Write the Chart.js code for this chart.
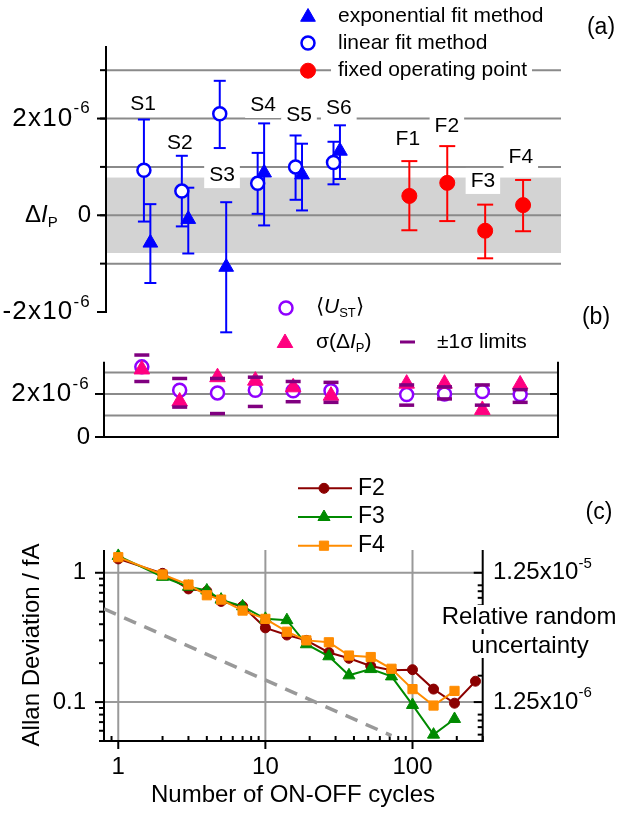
<!DOCTYPE html>
<html>
<head>
<meta charset="utf-8">
<title>Delta I_P and Allan deviation</title>
<script src="https://cdn.jsdelivr.net/npm/chart.js@4.4.1/dist/chart.umd.min.js"></script>
<style>
  html, body { margin: 0; padding: 0; background: #fff; }
  #page { position: relative; width: 621px; height: 813px; overflow: hidden; }
  #page canvas { position: absolute; left: 0; }
</style>
</head>
<body>
<div id="page">
  <canvas id="chartA" width="621" height="340" style="top:0"></canvas>
  <canvas id="chartB" width="621" height="165" style="top:290px"></canvas>
  <canvas id="chartC" width="621" height="358" style="top:455px"></canvas>
</div>
<script>
// panel (a)
const sampleNames = ["S1", "S2", "S3", "S4", "S5", "S6"];
const samplePos = [1, 2, 3, 4, 5, 6];
const linFit = [0.93e-6, 0.50e-6, 2.10e-6, 0.66e-6, 1.00e-6, 1.09e-6];
const linLo = [-0.13e-6, -0.23e-6, 1.39e-6, 0.03e-6, 0.32e-6, 0.64e-6];
const linHi = [1.98e-6, 1.23e-6, 2.78e-6, 1.29e-6, 1.65e-6, 1.52e-6];
const expFit = [-0.57e-6, -0.08e-6, -1.07e-6, 0.88e-6, 0.84e-6, 1.33e-6];
const expLo = [-1.40e-6, -0.79e-6, -2.42e-6, -0.21e-6, 0.10e-6, 0.75e-6];
const expHi = [0.23e-6, 0.57e-6, 0.27e-6, 1.90e-6, 1.48e-6, 1.86e-6];
const fixedNames = ["F1", "F2", "F3", "F4"];
const fixedPos = [8, 9, 10, 11];
const fixedPt = [0.40e-6, 0.67e-6, -0.32e-6, 0.21e-6];
const fixedLo = [-0.31e-6, -0.12e-6, -0.89e-6, -0.33e-6];
const fixedHi = [1.12e-6, 1.43e-6, 0.22e-6, 0.73e-6];
const bandHalf = 0.78e-6;
const gridA = [3e-6, 2e-6, 1e-6, 0, -1e-6];
const ticksA = [-2e-6, 0, 2e-6];
// anchors of the S/F tags (data coordinates)
const tagX = [0.98, 1.95, 3.06, 4.14, 5.09, 6.14, 7.96, 8.99, 9.94, 10.94];
const tagY = [2.30e-6, 1.49e-6, 0.83e-6, 2.28e-6, 2.07e-6, 2.22e-6, 1.57e-6, 1.84e-6, 0.71e-6, 1.20e-6];

// panel (b)
const allPos = [1, 2, 3, 4, 5, 6, 8, 9, 10, 11];
const ustMean = [3.26e-6, 2.17e-6, 2.05e-6, 2.17e-6, 2.15e-6, 2.15e-6, 1.97e-6, 2.00e-6, 2.11e-6, 1.97e-6];
const sigmaDI = [3.14e-6, 1.65e-6, 2.78e-6, 2.62e-6, 2.31e-6, 1.92e-6, 2.48e-6, 2.48e-6, 1.26e-6, 2.44e-6];
const limHi = [3.81e-6, 2.72e-6, 2.72e-6, 2.78e-6, 2.58e-6, 2.54e-6, 2.42e-6, 2.33e-6, 2.42e-6, 2.20e-6];
const limLo = [2.58e-6, 1.39e-6, 1.09e-6, 1.42e-6, 1.64e-6, 1.61e-6, 1.48e-6, 1.77e-6, 1.48e-6, 1.61e-6];
const gridB = [1e-6, 2e-6, 3e-6];
const ticksB = [0, 2e-6];

// panel (c)
const cycles = [1, 2, 3, 4, 5, 7, 10, 14, 19, 27, 37, 52, 72, 100, 139, 193, 268];
const adevF2 = [1.28, 0.99, 0.75, 0.72, 0.60, 0.55, 0.375, 0.33, 0.30, 0.242, 0.218, 0.19, 0.176, 0.178, 0.126, 0.098, 0.145];
const adevF3 = [1.35, 0.93, 0.78, 0.73, 0.62, 0.55, 0.44, 0.43, 0.28, 0.226, 0.161, 0.18, 0.158, 0.095, 0.056, 0.074];
const adevF4 = [1.32, 0.97, 0.81, 0.67, 0.62, 0.51, 0.44, 0.35, 0.30, 0.29, 0.229, 0.223, 0.181, 0.126, 0.094, 0.122];
const refX = [0.8, 72];
const refY = [0.525, 0.055];
const majorX = [1, 10, 100];
const majorY = [0.1, 1];
const relPerFA = 1.25e-5;
const relTicks = [1.25e-5, 1.25e-6];

const FONT = '"Liberation Sans", Arial, Helvetica, sans-serif';
const BLUE = "#0000ff";
const RED = "#ff0000";
const VIOLET = "#8f00ff";
const PINK = "#ff0080";
const PURPLE = "#800080";
const GRID = "#8a8a8a";

function hline(ctx, x1, x2, y) { ctx.beginPath(); ctx.moveTo(x1, y); ctx.lineTo(x2, y); ctx.stroke(); }
function vline(ctx, x, y1, y2) { ctx.beginPath(); ctx.moveTo(x, y1); ctx.lineTo(x, y2); ctx.stroke(); }

function mark(ctx, style, x, y, r, fill, stroke, lw) {
  ctx.beginPath();
  if (style === "circle") ctx.arc(x, y, r, 0, Math.PI * 2);
  else if (style === "triangle") {
    ctx.moveTo(x, y - r); ctx.lineTo(x + r * 0.866, y + r * 0.5); ctx.lineTo(x - r * 0.866, y + r * 0.5); ctx.closePath();
  } else if (style === "rect") {
    const s = r * Math.SQRT1_2; ctx.rect(x - s, y - s, 2 * s, 2 * s);
  }
  if (fill) { ctx.fillStyle = fill; ctx.fill(); }
  if (stroke) { ctx.strokeStyle = stroke; ctx.lineWidth = lw || 1; ctx.stroke(); }
}

// text with sup/sub/italic parts
function rich(ctx, parts, x, y, size, align, spacing) {
  ctx.letterSpacing = (spacing || 0) + "px";
  let w = 0;
  const segs = parts.map(([t, k]) => {
    const small = k === "sup" || k === "sub";
    const font = (k === "it" ? "italic " : "") + Math.round(small ? size * 0.64 : size) + "px " + FONT;
    ctx.font = font;
    const sw = ctx.measureText(t).width;
    w += sw;
    return { t, font, w: sw, dy: k === "sup" ? -size * 0.38 : k === "sub" ? size * 0.32 : 0 };
  });
  let cx = align === "right" ? x - w : align === "center" ? x - w / 2 : x;
  ctx.textAlign = "left";
  ctx.textBaseline = "middle";
  ctx.fillStyle = "#000";
  segs.forEach(s => { ctx.font = s.font; ctx.fillText(s.t, cx, y + s.dy); cx += s.w; });
  ctx.letterSpacing = "0px";
  return w;
}

function sciLabel(v) {
  if (v === 0) return [["0", ""]];
  const m = v / 1e-6;
  return [[m + "x10", ""], ["-6", "sup"]];
}

function errBar(ctx, x, lo, hi, half, color) {
  ctx.strokeStyle = color; ctx.lineWidth = 2;
  vline(ctx, x, lo, hi);
  hline(ctx, x - half, x + half, lo);
  hline(ctx, x - half, x + half, hi);
}

// Panel (a)
const panelA = {
  id: "panelA",
  beforeDatasetsDraw(chart) {
    const { ctx, chartArea: ca, scales: { x, y } } = chart;
    ctx.save();
    ctx.fillStyle = "#d3d3d3";
    const bt = y.getPixelForValue(bandHalf), bb = y.getPixelForValue(-bandHalf);
    ctx.fillRect(ca.left, bt, ca.right - ca.left, bb - bt);

    ctx.lineWidth = 2;
    ctx.strokeStyle = GRID;
    gridA.forEach(v => hline(ctx, ca.left, ca.right, y.getPixelForValue(v)));

    ctx.strokeStyle = "#000";
    vline(ctx, ca.left, ca.top, ca.bottom + 1);
    gridA.forEach(v => hline(ctx, ca.left - 6, ca.left, y.getPixelForValue(v)));
    ticksA.forEach(v => hline(ctx, ca.left - 9, ca.left, y.getPixelForValue(v)));
    ticksA.forEach(v => rich(ctx, sciLabel(v), 91, y.getPixelForValue(v), v === 0 ? 24 : 26, "right", v === 0 ? 0 : 1.2));
    rich(ctx, [["\u0394", ""], ["I", "it"], ["P", "sub"]], 25, y.getPixelForValue(0), 24, "left");

    // S / F tags on white boxes
    const names = sampleNames.concat(fixedNames);
    ctx.font = "21px " + FONT;
    names.forEach((n, i) => {
      const px = x.getPixelForValue(tagX[i]), py = y.getPixelForValue(tagY[i]);
      const w = ctx.measureText(n).width;
      ctx.fillStyle = "#fff";
      ctx.fillRect(px - w / 2 - 5, py - 13, w + 10, 26);
    });
    names.forEach((n, i) => rich(ctx, [[n, ""]], x.getPixelForValue(tagX[i]), y.getPixelForValue(tagY[i]), 21, "center"));

    samplePos.forEach((p, i) => {
      errBar(ctx, x.getPixelForValue(p), y.getPixelForValue(linLo[i]), y.getPixelForValue(linHi[i]), 6, BLUE);
      errBar(ctx, x.getPixelForValue(p + 0.17), y.getPixelForValue(expLo[i]), y.getPixelForValue(expHi[i]), 6, BLUE);
    });
    fixedPos.forEach((p, i) => {
      errBar(ctx, x.getPixelForValue(p), y.getPixelForValue(fixedLo[i]), y.getPixelForValue(fixedHi[i]), 8, RED);
    });
    ctx.restore();
  },
  afterDraw(chart) {
    const { ctx } = chart;
    ctx.save();
    mark(ctx, "triangle", 308, 17, 8.5, BLUE, BLUE, 1);
    mark(ctx, "circle", 308, 43, 6.5, "#fff", BLUE, 2.5);
    ctx.fillStyle = "#fff";
    ctx.fillRect(331, 58, 201, 26);
    mark(ctx, "circle", 308, 70.7, 7.5, RED, RED, 1);
    rich(ctx, [["exponential fit method", ""]], 338, 16, 21, "left");
    rich(ctx, [["linear fit method", ""]], 338, 43, 21, "left");
    rich(ctx, [["fixed operating point", ""]], 338, 70, 21, "left");
    rich(ctx, [["(a)", ""]], 601, 28, 23, "center");
    ctx.restore();
  }
};

new Chart(document.getElementById("chartA"), {
  type: "scatter",
  data: {
    datasets: [
      {
        label: "exponential fit method",
        data: samplePos.map((p, i) => ({ x: p + 0.17, y: expFit[i] })),
        pointStyle: "triangle", pointRadius: 8.5, backgroundColor: BLUE, borderColor: BLUE, borderWidth: 1, clip: false
      },
      {
        label: "fixed operating point",
        data: fixedPos.map((p, i) => ({ x: p, y: fixedPt[i] })),
        pointStyle: "circle", pointRadius: 7.5, backgroundColor: RED, borderColor: RED, borderWidth: 1, clip: false
      },
      {
        label: "linear fit method",
        data: samplePos.map((p, i) => ({ x: p, y: linFit[i] })),
        pointStyle: "circle", pointRadius: 6.5, backgroundColor: "#fff", borderColor: BLUE, borderWidth: 2.5, clip: false
      }
    ]
  },
  options: {
    responsive: false, animation: false, events: [],
    layout: { padding: { left: 106, right: 60, top: 46, bottom: 28 } },
    scales: {
      x: { type: "linear", min: 0, max: 12, display: false },
      y: { type: "linear", min: -2e-6, max: 3.5e-6, display: false }
    },
    plugins: { legend: { display: false }, tooltip: { enabled: false } }
  },
  plugins: [panelA]
});

// Panel (b)
const panelB = {
  id: "panelB",
  beforeDatasetsDraw(chart) {
    const { ctx, chartArea: ca, scales: { y } } = chart;
    ctx.save();
    ctx.lineWidth = 2;
    ctx.strokeStyle = GRID;
    gridB.forEach(v => hline(ctx, ca.left, ca.right, y.getPixelForValue(v)));
    ctx.strokeStyle = "#000";
    vline(ctx, ca.left, ca.top, ca.bottom + 1);
    vline(ctx, ca.right, ca.top, ca.bottom + 1);
    hline(ctx, ca.left - 1, ca.right + 1, ca.bottom);
    ticksB.forEach(v => hline(ctx, ca.left - 9, ca.left, y.getPixelForValue(v)));
    hline(ctx, ca.right - 8, ca.right, y.getPixelForValue(2e-6));
    ticksB.forEach(v => rich(ctx, sciLabel(v), 90, y.getPixelForValue(v), v === 0 ? 24 : 26, "right", v === 0 ? 0 : 1.2));
    ctx.restore();
  },
  afterDraw(chart) {
    const { ctx } = chart;
    ctx.save();
    mark(ctx, "circle", 286, 18, 6.5, "#fff", VIOLET, 2.5);
    rich(ctx, [["\u27E8", ""], ["U", "it"], ["ST", "sub"], ["\u27E9", ""]], 316, 17, 21, "left");
    mark(ctx, "triangle", 285, 53, 9, PINK, PINK, 1);
    rich(ctx, [["\u03C3(\u0394", ""], ["I", "it"], ["P", "sub"], [")", ""]], 316, 52, 21, "left");
    ctx.strokeStyle = PURPLE; ctx.lineWidth = 3;
    hline(ctx, 400, 415, 52);
    rich(ctx, [["\u00B11\u03C3 limits", ""]], 437, 52, 21, "left");
    rich(ctx, [["(b)", ""]], 596, 28, 23, "center");
    ctx.restore();
  }
};

new Chart(document.getElementById("chartB"), {
  type: "scatter",
  data: {
    datasets: [
      {
        label: "\u00B11\u03C3 limits",
        data: allPos.map((p, i) => ({ x: p, y: limHi[i] })).concat(allPos.map((p, i) => ({ x: p, y: limLo[i] }))),
        pointStyle: "line", pointRadius: 7.5, borderColor: PURPLE, backgroundColor: PURPLE, borderWidth: 3.5, clip: false
      },
      {
        label: "sigma",
        data: allPos.map((p, i) => ({ x: p, y: sigmaDI[i] })),
        pointStyle: "triangle", pointRadius: 9, backgroundColor: PINK, borderColor: PINK, borderWidth: 1, clip: false
      },
      {
        label: "U_ST",
        data: allPos.map((p, i) => ({ x: p, y: ustMean[i] })),
        pointStyle: "circle", pointRadius: 6.5, backgroundColor: "#fff", borderColor: VIOLET, borderWidth: 2.5, clip: false
      }
    ]
  },
  options: {
    responsive: false, animation: false, events: [],
    layout: { padding: { left: 104, right: 63, top: 71.7, bottom: 18 } },
    scales: {
      x: { type: "linear", min: 0, max: 12, display: false },
      y: { type: "linear", min: 0, max: 3.5e-6, display: false }
    },
    plugins: { legend: { display: false }, tooltip: { enabled: false } }
  },
  plugins: [panelB]
});

// Panel (c)
const panelC = {
  id: "panelC",
  beforeDatasetsDraw(chart) {
    const { ctx, chartArea: ca, scales: { x, y } } = chart;
    ctx.save();
    ctx.lineWidth = 2;
    ctx.strokeStyle = "#999";
    majorX.forEach(v => vline(ctx, x.getPixelForValue(v), ca.top, ca.bottom));
    majorY.forEach(v => hline(ctx, ca.left, ca.right, y.getPixelForValue(v)));

    ctx.strokeStyle = "#000";
    vline(ctx, ca.left, ca.top, ca.bottom + 1);
    vline(ctx, ca.right, ca.top, ca.bottom + 1);
    hline(ctx, ca.left - 1, ca.right + 1, ca.bottom);

    for (let d = 0.01; d < 10; d *= 10) {
      for (let k = 1; k < 10; k++) {
        const v = k * d;
        if (v < y.min || v > y.max) continue;
        hline(ctx, ca.left - (k === 1 ? 9 : 5), ca.left, y.getPixelForValue(v));
      }
    }
    for (let d = 0.1; d < 1000; d *= 10) {
      for (let k = 1; k < 10; k++) {
        const v = k * d;
        if (v < x.min || v > x.max) continue;
        const p = x.getPixelForValue(v);
        if (k === 1) vline(ctx, p, ca.bottom, ca.bottom + 8);
        else vline(ctx, p, ca.bottom - 5, ca.bottom);
      }
    }
    for (let d = 1e-7; d < 1e-4; d *= 10) {
      for (let k = 1; k < 10; k++) {
        const v = k * d / relPerFA;
        if (v < y.min || v > y.max) continue;
        hline(ctx, ca.right - 5, ca.right, y.getPixelForValue(v));
      }
    }
    relTicks.forEach(r => hline(ctx, ca.right - 9, ca.right, y.getPixelForValue(r / relPerFA)));

    majorX.forEach(v => rich(ctx, [[String(v), ""]], x.getPixelForValue(v), 312, 24, "center"));
    majorY.forEach(v => rich(ctx, [[String(v), ""]], 86, y.getPixelForValue(v), 24, "right"));
    relTicks.forEach(r => rich(ctx, [["1.25x10", ""], [r > 2e-6 ? "-5" : "-6", "sup"]], 493, y.getPixelForValue(r / relPerFA), 24, "left"));

    rich(ctx, [["Number of ON-OFF cycles", ""]], 293, 340, 24, "center");
    ctx.save();
    ctx.translate(32, 190);
    ctx.rotate(-Math.PI / 2);
    rich(ctx, [["Allan Deviation / fA", ""]], 0, 0, 24, "center");
    ctx.restore();

    ctx.font = "24px " + FONT;
    [["Relative random", 162], ["uncertainty", 191]].forEach(([t, yy]) => {
      const w = ctx.measureText(t).width;
      ctx.fillStyle = "#fff";
      ctx.fillRect(529 - w / 2 - 2, yy - 12, w + 4, 24);
    });
    rich(ctx, [["Relative random", ""]], 529, 162, 24, "center");
    rich(ctx, [["uncertainty", ""]], 530, 191, 24, "center");
    ctx.restore();
  },
  afterDraw(chart) {
    const { ctx } = chart;
    ctx.save();
    const rows = [["F2", "#8b0000", "circle", 5], ["F3", "#008a00", "triangle", 7], ["F4", "#ff8c00", "rect", 6.5]];
    rows.forEach(([n, c, s, r], i) => {
      const yy = 33.3 + i * 28.7;
      ctx.strokeStyle = c; ctx.lineWidth = 2;
      hline(ctx, 298, 352, yy);
      mark(ctx, s, 324, yy, r, c, c, 1);
      rich(ctx, [[n, ""]], 358, yy, 23, "left");
    });
    rich(ctx, [["(c)", ""]], 599, 58, 23, "center");
    ctx.restore();
  }
};

new Chart(document.getElementById("chartC"), {
  type: "scatter",
  data: {
    datasets: [
      {
        label: "F4",
        data: adevF4.map((v, i) => ({ x: cycles[i], y: v })),
        showLine: true, borderColor: "#ff8c00", backgroundColor: "#ff8c00", borderWidth: 2,
        pointStyle: "rect", pointRadius: 6.5, pointBorderWidth: 1, clip: false
      },
      {
        label: "F3",
        data: adevF3.map((v, i) => ({ x: cycles[i], y: v })),
        showLine: true, borderColor: "#008a00", backgroundColor: "#008a00", borderWidth: 2,
        pointStyle: "triangle", pointRadius: 7, pointBorderWidth: 1, clip: false
      },
      {
        label: "F2",
        data: adevF2.map((v, i) => ({ x: cycles[i], y: v })),
        showLine: true, borderColor: "#8b0000", backgroundColor: "#8b0000", borderWidth: 2,
        pointStyle: "circle", pointRadius: 5, pointBorderWidth: 1, clip: false
      },
      {
        label: "1/sqrt(N)",
        data: refX.map((v, i) => ({ x: v, y: refY[i] })),
        showLine: true, borderColor: "#999", borderWidth: 3.5, borderDash: [13, 9], pointRadius: 0
      }
    ]
  },
  options: {
    responsive: false, animation: false, events: [],
    layout: { padding: { left: 104, right: 138.3, top: 95, bottom: 72 } },
    scales: {
      x: { type: "logarithmic", min: 0.8, max: 300, display: false },
      y: { type: "logarithmic", min: 0.05, max: 1.5, display: false }
    },
    plugins: { legend: { display: false }, tooltip: { enabled: false } }
  },
  plugins: [panelC]
});
</script>
</body>
</html>
